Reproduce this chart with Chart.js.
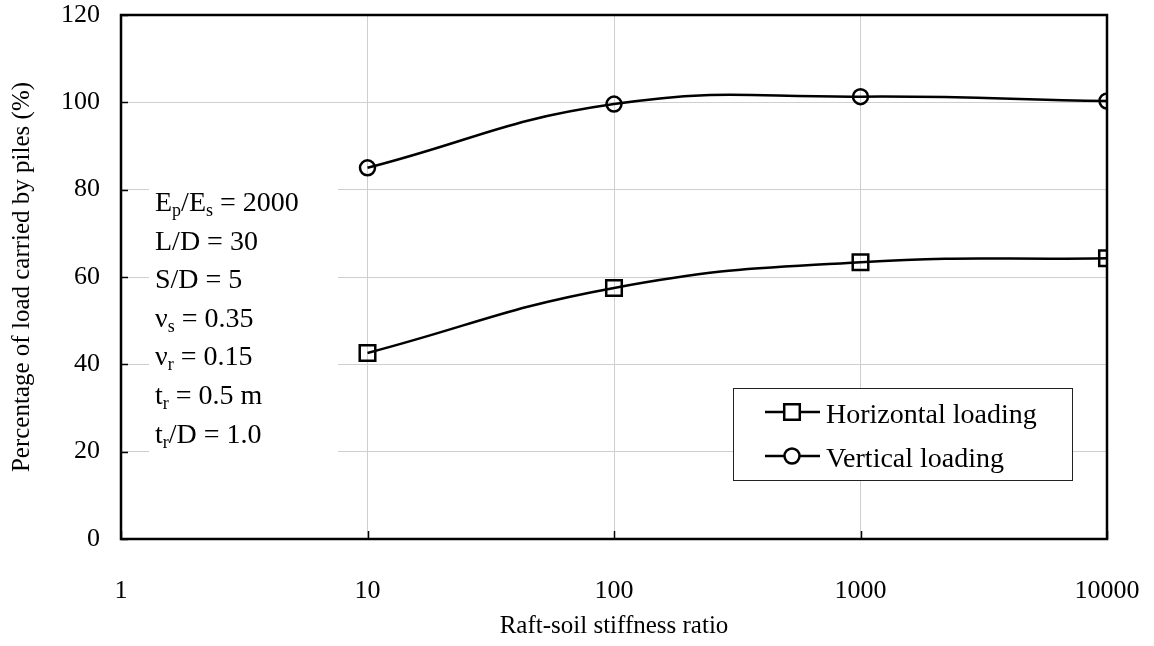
<!DOCTYPE html>
<html>
<head>
<meta charset="utf-8">
<script src="https://cdn.jsdelivr.net/npm/chart.js@4.4.1/dist/chart.umd.min.js"></script>
<style>
  html, body { margin: 0; padding: 0; background: #fff; }
  #wrap { width: 1154px; height: 646px; position: relative; }
</style>
</head>
<body>
<div id="wrap"><canvas id="c" width="1154" height="646"></canvas></div>
<script>
// ---- data ----
const stiffnessRatio = [10, 100, 1000, 10000];
const horizontalLoading = [42.6, 57.5, 63.4, 64.3];
const verticalLoading = [85.0, 99.6, 101.3, 100.3];
const xTickValues = [1, 10, 100, 1000, 10000];
const yTickValues = [0, 20, 40, 60, 80, 100, 120];
const seriesNames = ['Horizontal loading', 'Vertical loading'];
const xTitle = 'Raft-soil stiffness ratio';
const yTitle = 'Percentage of load carried by piles (%)';
// annotation lines: [text, isSubscript] pieces
const paramLines = [
  [['E', 0], ['p', 1], ['/E', 0], ['s', 1], [' = 2000', 0]],
  [['L/D = 30', 0]],
  [['S/D = 5', 0]],
  [['\u03BD', 0], ['s', 1], [' = 0.35', 0]],
  [['\u03BD', 0], ['r', 1], [' = 0.15', 0]],
  [['t', 0], ['r', 1], [' = 0.5 m', 0]],
  [['t', 0], ['r', 1], ['/D = 1.0', 0]]
];

const FONT = '"Liberation Serif", "Times New Roman", serif';

function zeroPad(s) { s.paddingTop = 0; s.paddingBottom = 0; s.paddingLeft = 0; s.paddingRight = 0; }

const decorPlugin = {
  id: 'decor',
  beforeDatasetsDraw(chart) {
    const ctx = chart.ctx;
    const a = chart.chartArea;
    ctx.save();
    // white box behind parameter text
    ctx.fillStyle = '#fff';
    ctx.fillRect(149, 178, 189, 282);
    // inward ticks
    const xs = chart.scales.x, ys = chart.scales.y;
    ctx.strokeStyle = '#000';
    ctx.lineWidth = 1.5;
    yTickValues.forEach(v => {
      const y = Math.round(ys.getPixelForValue(v)) + 0.5;
      ctx.beginPath(); ctx.moveTo(a.left, y); ctx.lineTo(a.left + 7, y); ctx.stroke();
    });
    xTickValues.forEach(v => {
      const x = Math.round(xs.getPixelForValue(v)) + 0.5;
      ctx.beginPath(); ctx.moveTo(x, a.bottom); ctx.lineTo(x, a.bottom - 8); ctx.stroke();
    });
    // frame
    ctx.lineWidth = 2.5;
    ctx.strokeRect(a.left, a.top, a.right - a.left, a.bottom - a.top);
    // parameter text
    ctx.fillStyle = '#000';
    ctx.textBaseline = 'alphabetic';
    ctx.textAlign = 'left';
    paramLines.forEach((pieces, i) => {
      let x = 155;
      const y = 211 + i * 38.6;
      pieces.forEach(([t, sub]) => {
        ctx.font = sub ? '18px ' + FONT : '28px ' + FONT;
        ctx.fillText(t, x, sub ? y + 5 : y);
        x += ctx.measureText(t).width;
      });
    });
    ctx.restore();
  },
  afterDatasetsDraw(chart) {
    const ctx = chart.ctx;
    ctx.save();
    // legend box
    ctx.fillStyle = '#fff';
    ctx.fillRect(733, 388, 339, 92);
    ctx.strokeStyle = '#222';
    ctx.lineWidth = 1;
    ctx.strokeRect(733.5, 388.5, 339, 92);
    const rows = [412, 456];
    rows.forEach((y, i) => {
      ctx.strokeStyle = '#000';
      ctx.lineWidth = 2.5;
      ctx.beginPath(); ctx.moveTo(765, y); ctx.lineTo(820, y); ctx.stroke();
      const ds = chart.data.datasets[i];
      ctx.fillStyle = '#fff';
      Chart.helpers.drawPoint(ctx, {
        pointStyle: ds.pointStyle, radius: ds.pointRadius, borderWidth: 2.5
      }, 792, y);
      ctx.fillStyle = '#000';
      ctx.font = '28px ' + FONT;
      ctx.textBaseline = 'middle';
      ctx.textAlign = 'left';
      ctx.fillText(seriesNames[i], 826, y + 4);
    });
    ctx.restore();
  }
};

new Chart(document.getElementById('c'), {
  type: 'line',
  data: {
    datasets: [
      {
        label: seriesNames[0],
        data: stiffnessRatio.map((x, i) => ({ x, y: horizontalLoading[i] })),
        borderColor: '#000', backgroundColor: '#fff',
        borderWidth: 2.5, pointStyle: 'rect', pointRadius: 11,
        pointBorderWidth: 2.5, pointBorderColor: '#000', pointBackgroundColor: 'rgba(0,0,0,0)',
        tension: 0.45, fill: false
      },
      {
        label: seriesNames[1],
        data: stiffnessRatio.map((x, i) => ({ x, y: verticalLoading[i] })),
        borderColor: '#000', backgroundColor: '#fff',
        borderWidth: 2.5, pointStyle: 'circle', pointRadius: 7.5,
        pointBorderWidth: 2.5, pointBorderColor: '#000', pointBackgroundColor: 'rgba(0,0,0,0)',
        tension: 0.45, fill: false
      }
    ]
  },
  options: {
    responsive: false,
    animation: false,
    devicePixelRatio: 1,
    layout: { padding: { top: 15, right: 47, left: 0, bottom: 0 } },
    plugins: { legend: { display: false }, tooltip: { enabled: false } },
    scales: {
      x: {
        type: 'logarithmic', min: 1, max: 10000,
        afterBuildTicks(s) { s.ticks = xTickValues.map(v => ({ value: v })); },
        afterFit(s) { s.height = 107; zeroPad(s); },
        grid: { color: '#cfcfcf', lineWidth: 1, drawTicks: false },
        border: { display: false },
        ticks: {
          padding: 37, color: '#000', autoSkip: false, maxRotation: 0,
          font: { family: FONT, size: 26 },
          callback: (v) => String(v)
        },
        title: { display: true, text: xTitle, color: '#000', font: { family: FONT, size: 25 }, padding: { top: 0, bottom: 5 } }
      },
      y: {
        min: 0, max: 120,
        afterBuildTicks(s) { s.ticks = yTickValues.map(v => ({ value: v })); },
        afterFit(s) { s.width = 121; zeroPad(s); },
        grid: { color: '#cfcfcf', lineWidth: 1, drawTicks: false },
        border: { display: false },
        ticks: { padding: 21, color: '#000', font: { family: FONT, size: 26 } },
        title: { display: true, text: yTitle, color: '#000', font: { family: FONT, size: 25 }, padding: { top: 7, bottom: 0 } }
      }
    }
  },
  plugins: [decorPlugin]
});
</script>
</body>
</html>
